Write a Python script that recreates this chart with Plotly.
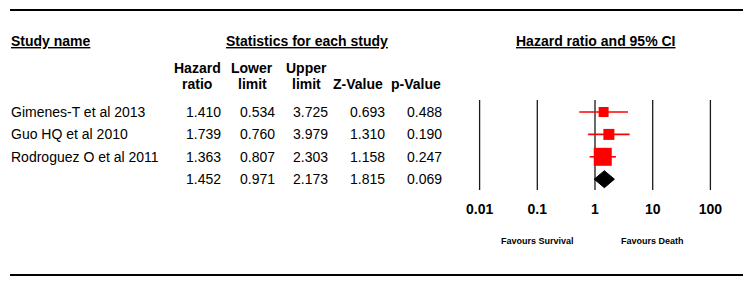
import plotly.graph_objects as go

studies = ["Gimenes-T et al 2013", "Guo HQ et al 2010", "Rodroguez O et al 2011", ""]
hazard_ratio = [1.410, 1.739, 1.363, 1.452]
lower_limit = [0.534, 0.760, 0.807, 0.971]
upper_limit = [3.725, 3.979, 2.303, 2.173]
z_value = [0.693, 1.310, 1.158, 1.815]
p_value = [0.488, 0.190, 0.247, 0.069]
box_sizes = [10, 11, 18]
tick_vals = [0.01, 0.1, 1, 10, 100]
tick_text = ["0.01", "0.1", "1", "10", "100"]

W, H = 752, 286
FONT = "Arial, Liberation Sans, sans-serif"

# pixel <-> row mapping
ROW0, ROWSTEP = 112.0, 22.4
def row(p):
    return (p - ROW0) / ROWSTEP
def py(p):
    return 1 - p / H
def px(x):
    return x / W

fig = go.Figure()

# vertical reference lines
vx, vy = [], []
for v in tick_vals:
    vx += [v, v, None]
    vy += [row(100), row(190), None]
fig.add_trace(go.Scatter(x=vx, y=vy, mode="lines",
                         line=dict(color="#1a1a1a", width=1.3),
                         hoverinfo="skip", showlegend=False))

# confidence intervals for studies
n = len(box_sizes)
for i in range(n):
    fig.add_trace(go.Scatter(x=[lower_limit[i], upper_limit[i]], y=[i, i],
                             mode="lines", line=dict(color="#ff0000", width=1.6),
                             hoverinfo="skip", showlegend=False))
fig.add_trace(go.Scatter(x=hazard_ratio[:n], y=list(range(n)), mode="markers",
                         marker=dict(symbol="square", size=box_sizes, color="#ff0000",
                                     opacity=1, line=dict(width=0)),
                         showlegend=False))

# summary diamond
s = n
h = 0.38
fig.add_trace(go.Scatter(
    x=[lower_limit[s], hazard_ratio[s], upper_limit[s], hazard_ratio[s], lower_limit[s]],
    y=[s, s - h, s, s + h, s], mode="lines", fill="toself",
    fillcolor="#000000", line=dict(color="#000000", width=1),
    hoverinfo="skip", showlegend=False))

# tick labels
fig.add_trace(go.Scatter(x=tick_vals, y=[row(210)] * len(tick_vals), mode="text",
                         text=["<b>%s</b>" % t for t in tick_text], cliponaxis=False,
                         textfont=dict(family=FONT, size=14, color="#000000"),
                         hoverinfo="skip", showlegend=False))

ann = []
def text(x, y, t, size=14, xanchor="left", bold=False, yref="paper", family=FONT):
    ann.append(dict(x=x, y=y, xref="paper", yref=yref, text=("<b>%s</b>" % t) if bold else t,
                    showarrow=False, xanchor=xanchor, yanchor="middle",
                    font=dict(family=family, size=size, color="#000000")))

# headers
text(px(9), py(41), "<u>Study name</u>", bold=True)
text(px(307), py(41), "<u>Statistics for each study</u>", xanchor="center", bold=True)
text(px(596), py(41), "<u>Hazard ratio and 95% CI</u>", xanchor="center", bold=True)

col_centers = [197, 252, 306, 358, 416]
col_rights = [222, 276, 329, 386, 443]
hdr1 = ["Hazard", "Lower", "Upper", "", ""]
hdr2 = ["ratio", "limit", "limit", "Z-Value", "p-Value"]
for c, a, b in zip(col_centers, hdr1, hdr2):
    if a:
        text(px(c), py(68), a, xanchor="center", bold=True)
    text(px(c), py(84), b, xanchor="center", bold=True)

cols = [hazard_ratio, lower_limit, upper_limit, z_value, p_value]
for i, name in enumerate(studies):
    if name:
        text(px(9), i, name, yref="y")
    for c, vals in zip(col_rights, cols):
        text(px(c + 1), i, "%.3f" % vals[i], xanchor="right", yref="y")

text(px(537), py(241), "Favours Survival", size=9, xanchor="center", bold=True)
text(px(652), py(241), "Favours Death", size=9, xanchor="center", bold=True)

shapes = [
    dict(type="line", xref="paper", yref="paper", x0=px(10), x1=px(743), y0=py(10), y1=py(10),
         line=dict(color="#000000", width=2.2)),
    dict(type="line", xref="paper", yref="paper", x0=px(10), x1=px(743), y0=py(275), y1=py(275),
         line=dict(color="#000000", width=2.2)),
]

X0, X1 = 470, 730
PER_DEC = 57.7
fig.update_layout(
    width=W, height=H, margin=dict(l=0, r=0, t=0, b=0),
    paper_bgcolor="white", plot_bgcolor="white",
    xaxis=dict(type="log", domain=[px(X0), px(X1)],
               range=[(X0 - 595) / PER_DEC, (X1 - 595) / PER_DEC],
               showgrid=False, zeroline=False, showticklabels=False, showline=False, ticks=""),
    yaxis=dict(domain=[0, 1], range=[row(H), row(0)], showgrid=False, zeroline=False,
               showticklabels=False, showline=False, ticks=""),
    annotations=ann, shapes=shapes, showlegend=False,
)
fig.write_html("out.html", config={"displayModeBar": False},
               post_script="document.body.style.margin='0';document.body.style.overflow='hidden';")
